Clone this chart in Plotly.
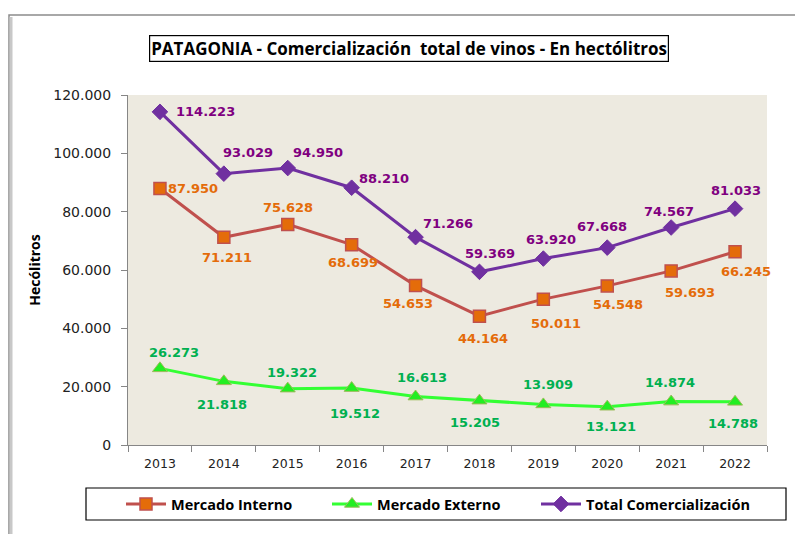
import plotly.graph_objects as go

years = ["2013", "2014", "2015", "2016", "2017", "2018", "2019", "2020", "2021", "2022"]
interno = [87950, 71211, 75628, 68699, 54653, 44164, 50011, 54548, 59693, 66245]
externo = [26273, 21818, 19322, 19512, 16613, 15205, 13909, 13121, 14874, 14788]
total = [114223, 93029, 94950, 88210, 71266, 59369, 63920, 67668, 74567, 81033]

# label offsets in screen pixels (dx right, dy down) relative to each point
off_interno = [(33, 0), (3, 20), (0, -17), (1, 18), (-8, 18), (4, 22), (13, 24), (11, 19), (19, 22), (11, 20)]
off_externo = [(14, -16), (-2, 23), (4, -16), (3, 25), (6, -19), (-4, 22), (5, -20), (4, 20), (-1, -19), (-2, 22)]
off_total = [(46, 0), (24, -21), (30, -16), (32, -9), (32, -14), (11, -18), (8, -19), (-5, -21), (-2, -16), (1, -18)]


def fmt(v):
    return f"{v:,}".replace(",", ".")


fig = go.Figure()
fig.add_trace(go.Scatter(
    x=years, y=interno, name="Mercado Interno", mode="lines+markers", legend="legend",
    line=dict(color="#C0504D", width=3),
    marker=dict(symbol="square", size=12, color="#E46C0A", line=dict(color="#C0504D", width=1.5)),
))
fig.add_trace(go.Scatter(
    x=years, y=externo, name="Mercado Externo", mode="lines+markers", legend="legend2",
    line=dict(color="#33FF33", width=3),
    marker=dict(symbol="triangle-up", size=13, color="#22EE22", line=dict(color="#9BBB59", width=1)),
))
fig.add_trace(go.Scatter(
    x=years, y=total, name="Total Comercialización", mode="lines+markers", legend="legend3",
    line=dict(color="#7030A0", width=3),
    marker=dict(symbol="diamond", size=12, color="#7030A0", line=dict(color="#7030A0", width=1)),
))

L, R, T, B = 128, 28, 95, 89
W, H = 795, 534
pw, ph = W - L - R, H - T - B


def px(x):
    return (x - L) / pw


def py(y):
    return (H - B - y) / ph


annotations = [
    dict(text="PATAGONIA - Comercialización  total de vinos - En hectólitros",
         xref="paper", yref="paper", x=px(408.5), y=py(49), xanchor="center", yanchor="middle",
         showarrow=False, font=dict(family="Open Sans", size=17, color="black", weight="bold"),
         bordercolor="black", borderwidth=1.2, borderpad=1, bgcolor="white"),
]

for vals, offs, col in ((interno, off_interno, "#E46C0A"),
                        (externo, off_externo, "#00B050"),
                        (total, off_total, "#800080")):
    for i, (v, (dx, dy)) in enumerate(zip(vals, offs)):
        annotations.append(dict(
            x=i, y=v, xref="x", yref="y", text=fmt(v), showarrow=False,
            xshift=dx, yshift=-dy, xanchor="center", yanchor="middle",
            font=dict(family="DejaVu Sans", size=13, color=col, weight="bold"),
        ))


def leg(xpix):
    return dict(
        orientation="h", xanchor="left", yanchor="middle",
        xref="container", yref="container",
        x=xpix / W, y=1 - 504 / H,
        font=dict(family="Open Sans", size=14.5, color="black", weight="bold"),
        bgcolor="rgba(0,0,0,0)", borderwidth=0, itemwidth=40,
    )


fig.update_layout(
    width=W, height=H,
    margin=dict(l=L, r=R, t=T, b=B, autoexpand=False),
    paper_bgcolor="white",
    plot_bgcolor="#EDEAE0",
    separators=",.",
    showlegend=True,
    legend=leg(121),
    legend2=leg(327),
    legend3=leg(536),
    xaxis=dict(
        type="category", range=[-0.5, len(years) - 0.5], autorange=False,
        showgrid=False, tickson="boundaries", ticks="outside",
        ticklen=6, tickcolor="#868686", showline=True, linecolor="#868686", linewidth=1,
        tickfont=dict(family="DejaVu Sans", size=12.5, color="#222"),
        ticklabelstandoff=7,
        zeroline=False, automargin=False,
    ),
    yaxis=dict(
        range=[0, 120000], dtick=20000, tickformat=",d", showgrid=False,
        ticks="outside", ticklen=6, tickcolor="#868686", showline=True,
        linecolor="#868686", linewidth=1, zeroline=False, automargin=False,
        tickfont=dict(family="DejaVu Sans", size=14, color="#222"),
        ticklabelstandoff=7,
        title=dict(text="Hecólitros", font=dict(family="Open Sans", size=14, color="black", weight="bold"),
                   standoff=9),
    ),
    shapes=[
        dict(type="rect", xref="paper", yref="paper", x0=px(9), x1=px(800), y0=py(15), y1=py(560),
             line=dict(color="#8C8C8C", width=1.5), layer="below"),
        dict(type="line", xref="paper", yref="paper", x0=px(11), x1=px(11), y0=py(17), y1=py(560),
             line=dict(color="#C8C8C8", width=3), layer="below"),
        dict(type="rect", xref="paper", yref="paper", x0=px(86), x1=px(786), y0=py(488), y1=py(520),
             line=dict(color="black", width=1.2), fillcolor="rgba(0,0,0,0)"),
    ],
    annotations=annotations,
)

fig.write_html("out.html", post_script="document.body.style.margin='0px';",
               config={"displayModeBar": False})
